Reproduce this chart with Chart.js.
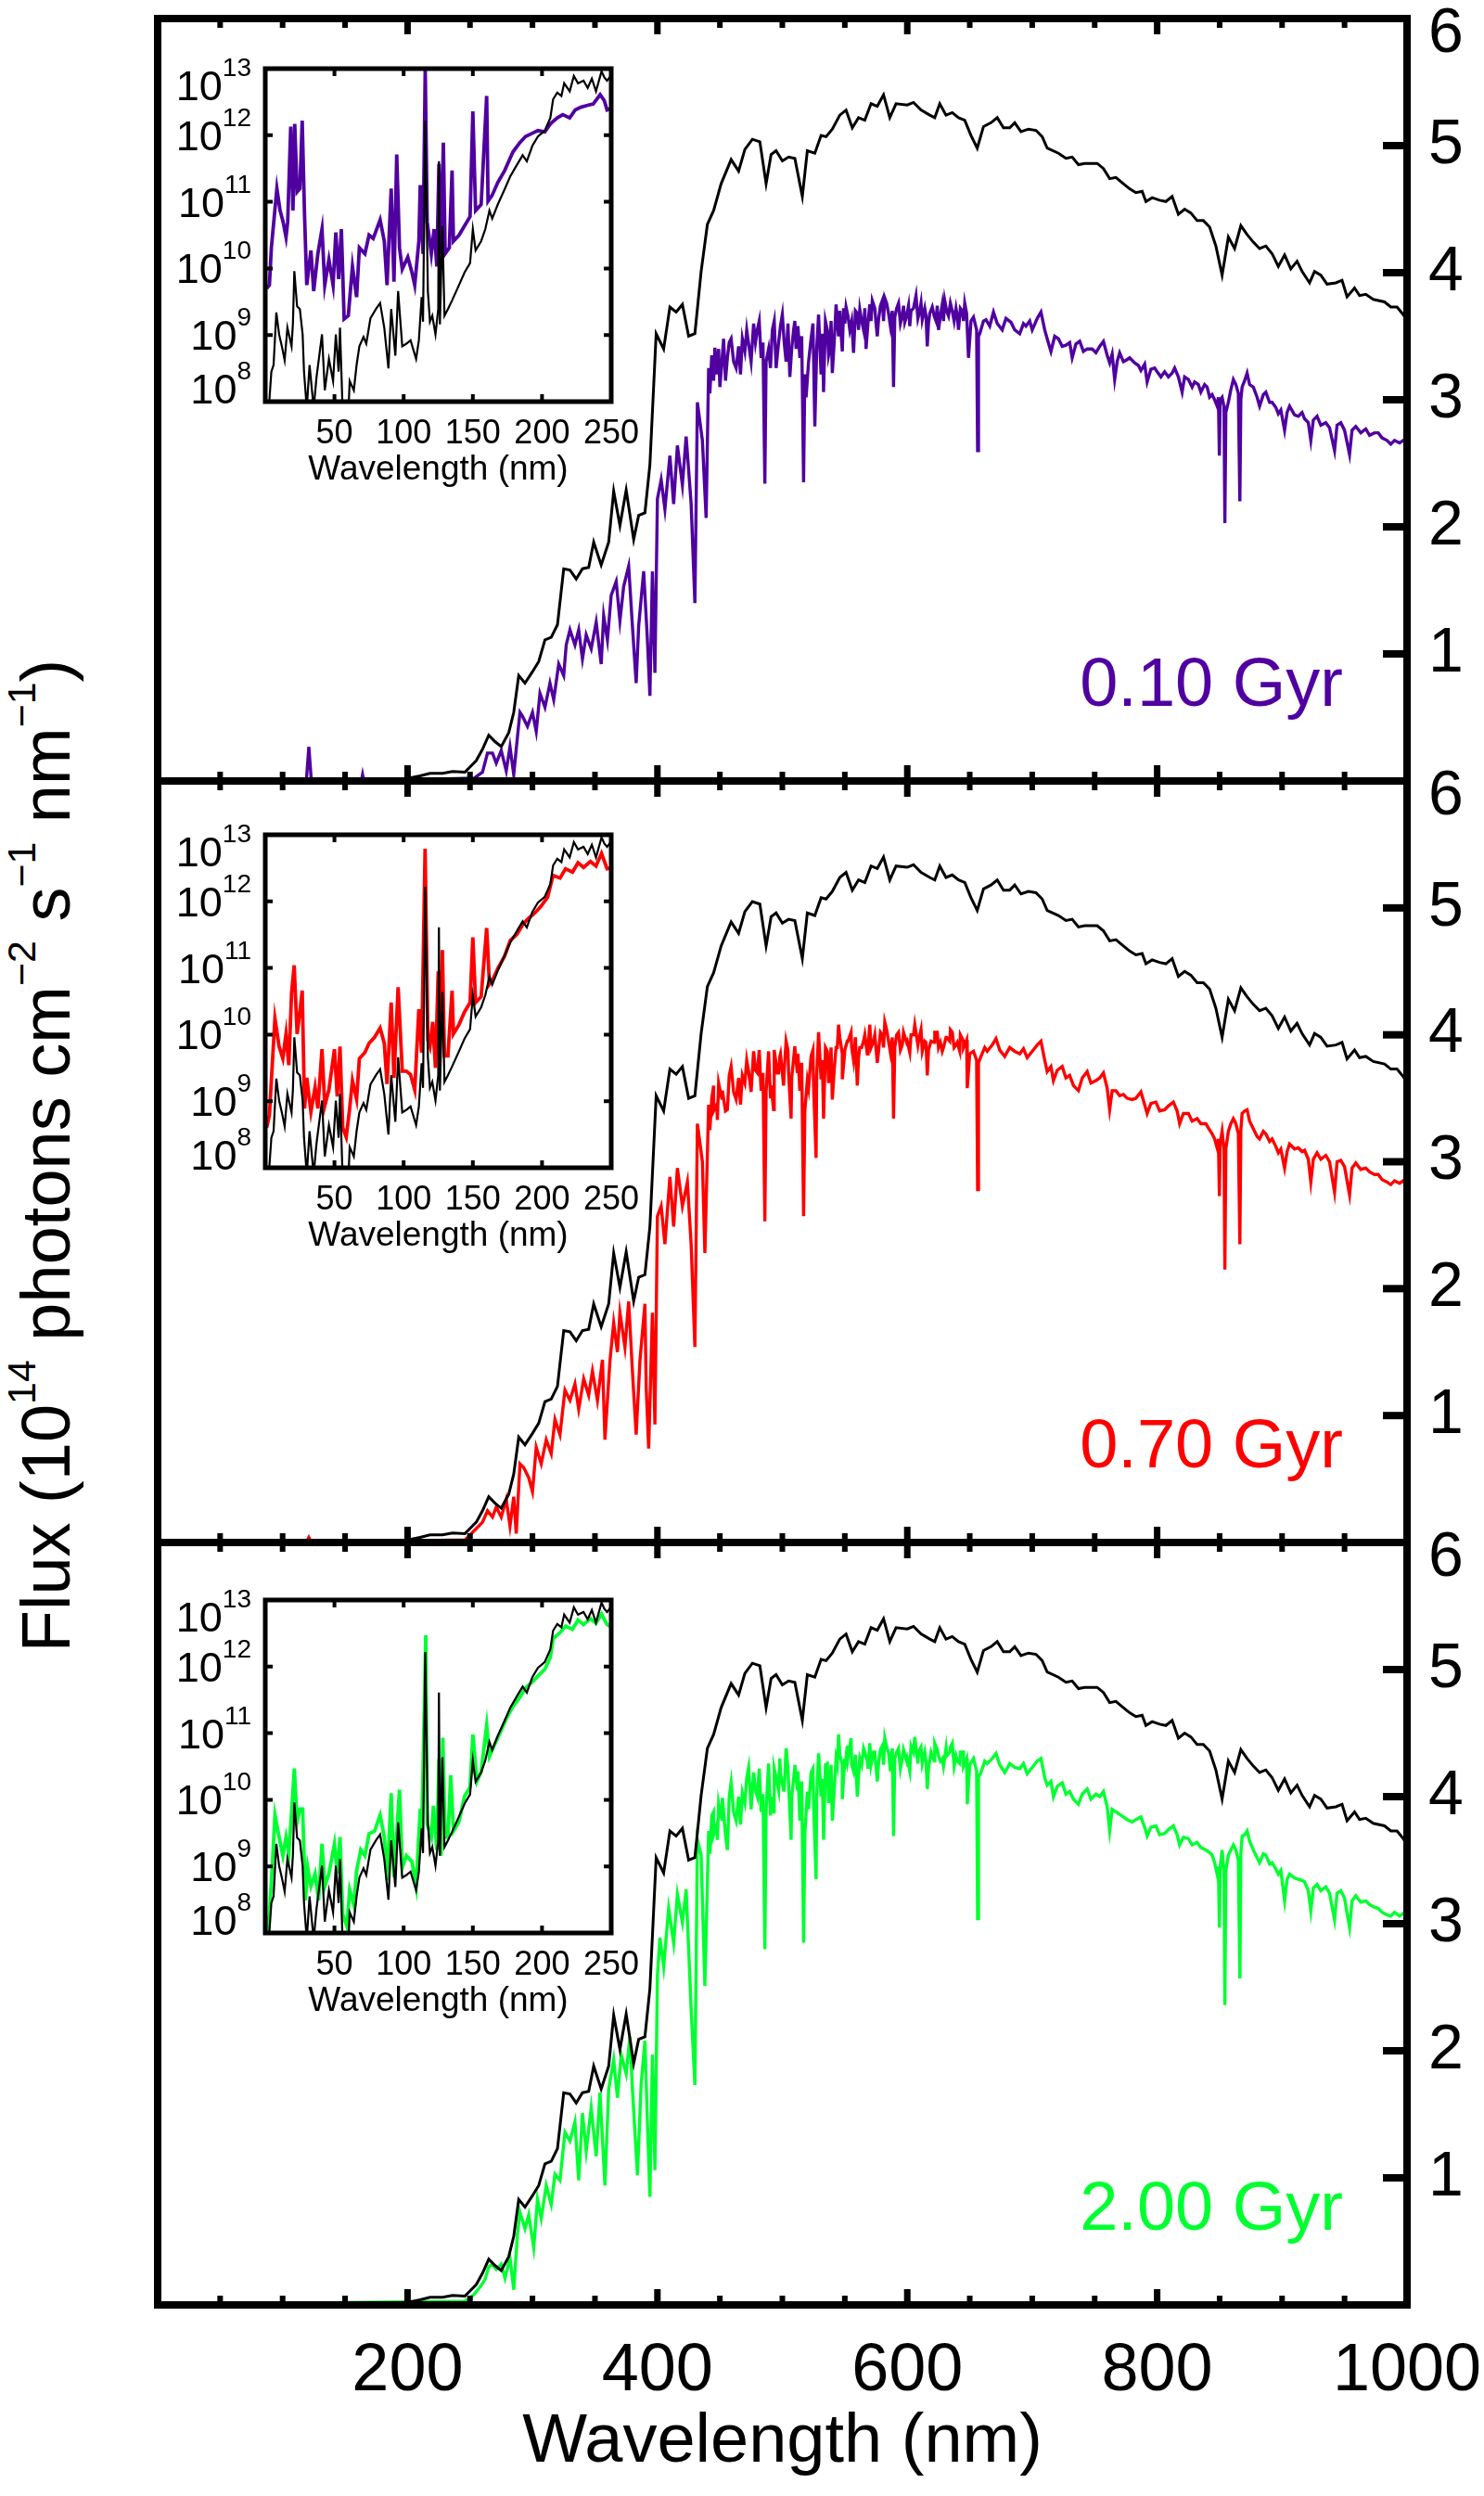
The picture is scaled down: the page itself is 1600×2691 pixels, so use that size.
<!DOCTYPE html>
<html>
<head>
<meta charset="utf-8">
<script src="https://cdn.jsdelivr.net/npm/chart.js@4.4.1/dist/chart.umd.min.js"></script>
<style>
  body { margin: 0; background: #fff; }
  #page { position: relative; width: 1600px; height: 2691px; overflow: hidden; font-family: "Liberation Sans", Arial, Helvetica, sans-serif; }
  canvas { position: absolute; }
  .ttl { position: absolute; font-size: 74px; line-height: 74px; white-space: nowrap; color: #000; }
  .ttl .sp { font-size: 0.58em; position: relative; top: -0.87em; line-height: 0; }
</style>
</head>
<body>
<div id="page">
  <div class="ttl" id="ytitle" style="left:50px; top:1246px; transform: translate(-50%,-50%) rotate(-90deg);">Flux (10<span class="sp">14</span> photons cm<span class="sp">−2</span> s<span class="sp">−1</span> nm<span class="sp">−1</span>)</div>
  <div class="ttl" style="left:170px; width:1347px; top:2592px; text-align:center;">Wavelength (nm)</div>
</div>
<script>
// reference spectrum (black), same in every panel: [wavelength nm, flux]
const blackSpec = [[200,0.02],[210,0.04],[218,0.06],[228,0.06],[236,0.075],[246,0.07],[249,0.10],[255,0.16],[260,0.25],[265,0.36],[270,0.31],[275,0.27],[281,0.38],[285,0.54],[289,0.83],[294,0.77],[300,0.86],[305,0.94],[310,1.11],[315,1.13],[320,1.23],[325,1.67],[330,1.66],[335,1.59],[340,1.67],[345,1.68],[349,1.88],[355,1.70],[361,1.88],[365,2.28],[370,2.01],[375,2.29],[381,1.90],[385,2.09],[390,2.11],[394,2.49],[399,3.52],[405,3.40],[410,3.73],[415,3.69],[420,3.75],[425,3.50],[430,3.52],[435,4.01],[440,4.38],[445,4.49],[451,4.70],[459,4.89],[465,4.80],[470,4.97],[476,5.05],[482,5.03],[487,4.70],[491,4.93],[495,4.96],[500,4.88],[505,4.91],[510,4.90],[516,4.60],[520,4.96],[526,4.94],[531,5.08],[535,5.07],[540,5.13],[546,5.24],[551,5.28],[556,5.14],[561,5.22],[566,5.20],[571,5.33],[576,5.31],[581,5.40],[586,5.22],[591,5.33],[600,5.32],[605,5.34],[611,5.28],[618,5.24],[622,5.22],[626,5.33],[631,5.24],[636,5.26],[641,5.22],[646,5.20],[651,5.08],[656,4.98],[661,5.15],[667,5.18],[672,5.22],[677,5.14],[682,5.14],[686,5.18],[691,5.11],[697,5.13],[703,5.12],[708,5.07],[712,4.98],[721,4.94],[727,4.90],[732,4.91],[737,4.85],[742,4.86],[752,4.86],[757,4.82],[762,4.74],[767,4.75],[773,4.70],[778,4.66],[783,4.63],[788,4.64],[791,4.56],[796,4.59],[802,4.57],[807,4.56],[812,4.60],[817,4.46],[822,4.50],[827,4.47],[832,4.41],[837,4.41],[842,4.36],[847,4.21],[852,3.98],[857,4.28],[862,4.19],[867,4.37],[872,4.30],[877,4.24],[882,4.19],[887,4.21],[892,4.15],[897,4.05],[902,4.14],[907,4.03],[912,4.09],[916,4.01],[922,3.92],[926,4.01],[931,3.98],[936,3.91],[943,3.92],[948,3.94],[952,3.81],[958,3.88],[962,3.82],[967,3.83],[973,3.79],[982,3.77],[987,3.73],[992,3.73],[997,3.67],[1000,3.62]];

// 0.10 Gyr spectrum
const purpleSpec = [[0,0],[119,0],[121,0.27],[123,0],[163,0],[164,0.05],[165,0],[246,0.02],[253,0.02],[260,0.07],[264,0.22],[268,0.22],[271,0.14],[275,0.24],[279,0.08],[282,0.27],[285,0.05],[288,0.35],[290,0.54],[292,0.51],[296,0.43],[300,0.54],[303,0.39],[306,0.69],[310,0.58],[314,0.77],[317,0.64],[321,0.92],[325,0.83],[327,1.07],[330,1.19],[334,1.07],[337,1.19],[340,0.96],[343,1.15],[347,1.04],[351,1.25],[355,0.92],[357,1.30],[360,1.11],[363,1.46],[367,1.57],[370,1.26],[373,1.53],[377,1.69],[380,1.22],[383,0.77],[385,1.22],[389,1.65],[392,1.11],[394,0.67],[396,1.65],[398,0.85],[400,2.22],[403,2.37],[406,2.14],[410,2.56],[413,2.18],[416,2.64],[420,2.33],[423,2.71],[427,2.18],[430,1.40],[432,2.98],[436,2.68],[439,2.07],[441,3.25],[446,3.41],[450,3.10],[453,3.48],[456,3.33],[459,3.48],[463,3.25],[468,3.48],[473,3.44],[477,3.60],[480,3.55],[483,3.33],[486,2.34],[487,3.30],[489,3.40],[492,3.55],[495,3.25],[500,3.67],[503,3.30],[506,3.18],[509,3.55],[511,3.40],[514,3.33],[517,2.35],[518,3.20],[519,3.02],[523,3.48],[526,2.79],[529,3.67],[531,3.20],[533,3.06],[536,3.55],[538,3.40],[540,3.21],[543,3.75],[545,3.50],[547,3.52],[549,3.72],[551,3.73],[554,3.55],[557,3.37],[560,3.68],[562,3.71],[565,3.55],[567,3.40],[570,3.75],[572,3.78],[575,3.60],[577,3.63],[580,3.78],[582,3.80],[585,3.68],[588,3.70],[589,3.10],[590,3.65],[593,3.76],[596,3.66],[598,3.61],[601,3.74],[603,3.70],[607,3.82],[610,3.70],[612,3.63],[614,3.72],[616,3.42],[618,3.68],[620,3.73],[623,3.62],[625,3.55],[628,3.75],[630,3.78],[633,3.66],[636,3.70],[639,3.72],[641,3.55],[644,3.70],[646,3.76],[649,3.33],[651,3.62],[653,3.65],[655.5,3.55],[656.3,2.60],[657,3.50],[658,3.52],[661,3.62],[663,3.63],[666,3.58],[669,3.69],[672,3.60],[676,3.55],[679,3.64],[683,3.61],[686,3.55],[690,3.52],[693,3.60],[695,3.58],[698,3.62],[700,3.55],[704,3.64],[707,3.69],[710,3.55],[712,3.48],[715,3.38],[718,3.50],[721,3.48],[724,3.42],[727,3.43],[730,3.45],[732,3.33],[735,3.44],[738,3.46],[741,3.38],[744,3.40],[748,3.40],[751,3.37],[754,3.42],[757,3.46],[760,3.35],[762,3.29],[764,3.36],[766,3.16],[768,3.30],[770,3.37],[773,3.30],[775,3.31],[778,3.33],[782,3.29],[785,3.27],[787,3.23],[790,3.28],[792,3.14],[795,3.24],[798,3.25],[800,3.22],[803,3.18],[806,3.22],[809,3.18],[812,3.21],[814,3.25],[817,3.18],[820,3.06],[822,3.18],[825,3.16],[828,3.10],[830,3.14],[833,3.12],[835,3.06],[838,3.12],[840,3.10],[842,3.02],[844,3.04],[846,3.00],[848,2.95],[849,3.02],[849.8,2.56],[850.5,3.00],[852,3.02],[853.5,2.95],[854.2,2.03],[855,2.90],[857,2.98],[859,3.08],[861,3.16],[863,3.12],[865,3.05],[866.2,2.20],[867,3.00],[868,3.10],[870,3.15],[872,3.21],[874,3.12],[877,3.10],[880,3.02],[882,2.95],[885,3.04],[887,3.06],[890,2.98],[892,2.98],[895,2.94],[897,2.89],[899,2.92],[902,2.76],[904,2.90],[906,2.95],[910,2.88],[913,2.87],[916,2.90],[918,2.85],[921,2.82],[923,2.68],[925,2.84],[928,2.87],[931,2.80],[935,2.82],[938,2.78],[942,2.60],[944,2.80],[947,2.82],[950,2.76],[954,2.57],[956,2.76],[959,2.79],[963,2.74],[967,2.77],[970,2.72],[974,2.74],[977,2.74],[980,2.70],[984,2.68],[987,2.65],[990,2.68],[994,2.66],[997,2.68],[1000,2.66]];
// extra samples in the dense 440-650 nm forest
const purpleDetail = [[442,3.05],[443.5,3.35],[445,3.15],[447.5,3.20],[449,3.40],[451.5,3.28],[454.5,3.15],[457.5,3.45],[461,3.30],[465,3.42],[466.5,3.20],[470,3.38],[471.5,3.55],[475,3.30],[478.5,3.45],[481.5,3.62],[484.5,3.45],[490.5,3.25],[493.5,3.62],[497,3.45],[498.5,3.58],[501.5,3.45],[504.5,3.60],[507.5,3.40],[510,3.62],[512.5,3.58],[515.5,3.50],[521,3.30],[524.5,3.60],[527.5,3.40],[532,3.52],[534.5,3.62],[537,3.35],[539,3.62],[541.5,3.45],[544,3.62],[546,3.70],[548,3.38],[550,3.60],[552.5,3.66],[555.5,3.62],[558.5,3.70],[561,3.55],[563.5,3.62],[566,3.72],[568.5,3.60],[571,3.62],[574,3.72],[576,3.50],[578.5,3.74],[581,3.62],[583.5,3.76],[586.5,3.58],[591.5,3.72],[594.5,3.60],[597,3.74],[599.5,3.66],[602,3.58],[605,3.72],[608.5,3.64],[611,3.76],[615,3.66],[617,3.60],[621.5,3.66],[624,3.74],[626.5,3.66],[629,3.62],[631.5,3.70],[634.5,3.76],[637.5,3.62],[640,3.66],[642.5,3.72],[645,3.62],[647.5,3.68]];

// 0.70 Gyr spectrum
const redSpec = [[0,0],[119,0],[121,0.04],[123,0],[246,0.02],[255,0.11],[260,0.16],[264,0.25],[268,0.20],[271,0.28],[275,0.20],[279,0.34],[282,0.13],[285,0.36],[287,0.07],[290,0.62],[293,0.59],[297,0.51],[300,0.40],[303,0.75],[307,0.62],[311,0.81],[315,0.70],[318,0.97],[322,0.85],[326,1.20],[330,1.12],[334,1.25],[337,1.05],[341,1.29],[345,1.16],[348,1.35],[352,1.12],[356,1.44],[358,0.81],[362,1.43],[365,1.73],[368,1.50],[370,1.81],[374,1.54],[377,1.90],[380,1.35],[383,0.85],[386,1.43],[390,1.88],[391,1.23],[393,0.74],[396,1.81],[398,0.93],[400,2.57],[403,2.65],[406,2.35],[410,2.88],[413,2.49],[416,2.95],[420,2.65],[424,2.84],[427,2.35],[430,1.54],[432,3.30],[436,3.00],[438,2.28],[441,3.45],[445,3.60],[448,3.33],[452,3.56],[456,3.41],[459,3.75],[463,3.49],[468,3.68],[473,3.71],[477,3.87],[480,3.70],[483,3.56],[486,2.53],[487,3.55],[489,3.87],[491,3.60],[493,3.41],[496,3.70],[498,3.83],[501,3.60],[503,3.95],[505,3.70],[507,3.34],[510,3.91],[512,3.70],[514,3.56],[517,2.57],[518,3.40],[520,3.64],[523,3.83],[525,3.60],[527,3.03],[529,4.02],[531,3.65],[533,3.34],[536,3.87],[538,3.70],[540,3.49],[543,3.90],[545,4.08],[548,3.85],[550,3.87],[552,3.95],[555,4.02],[557,3.80],[560,3.60],[562,3.90],[565,3.95],[568,3.85],[570,4.08],[573,3.95],[577,3.87],[580,4.00],[582,4.10],[585,3.95],[588,3.98],[589,3.34],[590,3.90],[593,4.02],[596,3.92],[600,3.95],[603,4.00],[606,4.08],[609,3.95],[612,3.87],[614,3.95],[616,3.68],[619,3.95],[622,4.02],[625,3.90],[628,3.87],[631,3.98],[634,3.95],[636,4.02],[639,3.92],[642,3.87],[645,3.95],[648,3.58],[650,3.85],[653,3.87],[655.5,3.80],[656.3,2.78],[657,3.78],[659,3.83],[662,3.90],[664,3.87],[668,3.92],[671,3.97],[674,3.88],[678,3.83],[682,3.90],[686,3.87],[690,3.85],[693,3.89],[696,3.82],[700,3.87],[704,3.92],[707,3.95],[710,3.80],[712,3.71],[715,3.75],[717,3.64],[720,3.72],[724,3.75],[727,3.66],[730,3.68],[733,3.60],[737,3.56],[740,3.66],[744,3.71],[747,3.62],[751,3.64],[754,3.66],[757,3.70],[760,3.58],[762,3.41],[764,3.56],[767,3.56],[770,3.52],[773,3.53],[776,3.50],[780,3.49],[783,3.50],[787,3.55],[790,3.45],[792,3.38],[795,3.46],[799,3.47],[802,3.40],[806,3.41],[809,3.44],[813,3.47],[816,3.40],[818,3.30],[821,3.38],[825,3.38],[828,3.32],[832,3.34],[835,3.30],[839,3.30],[842,3.25],[844,3.22],[846,3.18],[848,3.11],[849,3.18],[849.8,2.73],[850.5,3.15],[852,3.24],[853.5,3.10],[854.2,2.15],[855,3.10],[857,3.24],[859,3.30],[861,3.34],[863,3.30],[865,3.22],[866.2,2.35],[867,3.25],[868,3.38],[870,3.40],[872,3.41],[874,3.32],[877,3.26],[880,3.20],[882,3.18],[885,3.24],[887,3.22],[890,3.16],[892,3.18],[895,3.12],[897,3.07],[899,3.10],[902,2.95],[904,3.08],[906,3.14],[910,3.10],[913,3.11],[916,3.08],[918,3.09],[921,3.02],[923,2.84],[925,3.02],[928,3.07],[931,3.02],[935,3.05],[938,3.00],[942,2.76],[944,3.00],[947,3.01],[950,2.96],[954,2.74],[956,2.95],[959,2.99],[963,2.94],[967,2.95],[970,2.92],[974,2.90],[977,2.90],[980,2.86],[984,2.84],[987,2.82],[990,2.85],[994,2.83],[997,2.85],[1000,2.82]];
const redDetail = [[442,3.25],[443.5,3.50],[445,3.40],[447.5,3.45],[449,3.62],[451.5,3.50],[454.5,3.40],[457.5,3.68],[461,3.55],[465,3.66],[466.5,3.45],[470,3.62],[471.5,3.80],[475,3.55],[478.5,3.72],[481.5,3.88],[484.5,3.70],[490.5,3.50],[493.5,3.88],[497,3.70],[498.5,3.85],[501.5,3.72],[504.5,3.88],[507.5,3.66],[510,3.90],[512.5,3.85],[515.5,3.78],[521,3.58],[524.5,3.88],[527.5,3.68],[532,3.80],[534.5,3.90],[537,3.62],[539,3.90],[541.5,3.72],[544,3.90],[546,3.98],[548,3.65],[550,3.88],[552.5,3.95],[555.5,3.90],[558.5,3.98],[561,3.82],[563.5,3.90],[566,4.00],[568.5,3.88],[571,3.90],[574,4.00],[576,3.78],[578.5,4.02],[581,3.90],[583.5,4.04],[586.5,3.86],[591.5,4.00],[594.5,3.88],[597,4.02],[599.5,3.94],[602,3.86],[605,4.00],[608.5,3.92],[611,4.04],[615,3.94],[617,3.88],[621.5,3.94],[624,4.02],[626.5,3.94],[629,3.90],[631.5,3.98],[634.5,4.04],[637.5,3.90],[640,3.94],[642.5,4.00],[645,3.90],[647.5,3.96]];

// 2.00 Gyr spectrum
const greenSpec = [[0,0],[246,0.03],[253,0.08],[258,0.14],[262,0.20],[265,0.30],[268,0.32],[271,0.28],[275,0.32],[278,0.21],[282,0.37],[285,0.12],[288,0.56],[290,0.73],[294,0.60],[297,0.71],[301,0.45],[304,0.83],[307,0.68],[311,0.94],[315,0.79],[318,1.03],[322,0.98],[326,1.36],[330,1.29],[334,1.44],[337,0.98],[340,1.51],[343,1.21],[347,1.55],[351,1.17],[354,1.67],[358,0.94],[361,1.70],[365,1.93],[368,1.63],[371,1.97],[375,1.82],[378,2.11],[380,1.70],[384,1.02],[387,1.74],[390,2.08],[392,1.44],[394,0.85],[396,1.97],[398,1.06],[400,2.59],[402,2.89],[405,2.66],[409,3.12],[413,2.85],[416,3.23],[420,3.01],[423,3.27],[427,2.33],[430,1.73],[432,3.66],[435,3.54],[438,2.51],[441,3.73],[445,3.88],[448,3.66],[452,3.99],[456,3.58],[459,4.11],[463,3.81],[468,4.03],[473,4.23],[477,4.19],[480,4.00],[483,3.88],[486,2.80],[487,3.90],[489,4.26],[491,4.00],[493,3.88],[496,4.10],[498,4.30],[501,4.05],[503,4.38],[505,4.10],[507,3.66],[510,4.23],[512,4.05],[514,3.81],[517,2.85],[518,3.70],[520,4.04],[523,4.19],[525,3.95],[527,3.35],[529,4.34],[531,4.00],[533,3.66],[536,4.26],[538,4.05],[540,3.81],[543,4.30],[545,4.49],[548,4.25],[550,4.30],[552,4.40],[555,4.46],[557,4.20],[560,4.00],[562,4.30],[565,4.38],[568,4.28],[570,4.42],[573,4.35],[577,4.26],[580,4.40],[582,4.46],[585,4.35],[588,4.38],[589,3.69],[590,4.30],[593,4.38],[596,4.30],[600,4.30],[603,4.40],[606,4.47],[609,4.35],[612,4.26],[614,4.35],[616,4.06],[619,4.35],[622,4.42],[625,4.32],[628,4.30],[631,4.38],[634,4.35],[636,4.42],[639,4.32],[642,4.26],[645,4.35],[648,3.94],[650,4.25],[653,4.30],[655.5,4.20],[656.3,3.04],[657,4.15],[659,4.19],[662,4.28],[664,4.26],[668,4.30],[671,4.34],[674,4.25],[678,4.19],[682,4.26],[686,4.23],[690,4.22],[693,4.26],[696,4.18],[700,4.23],[704,4.28],[707,4.30],[710,4.15],[712,4.09],[715,4.12],[717,4.00],[720,4.08],[724,4.11],[727,4.02],[730,4.04],[733,3.98],[737,3.94],[740,4.02],[744,4.06],[747,3.98],[751,4.02],[754,4.00],[757,4.04],[760,3.92],[762,3.73],[764,3.90],[767,3.88],[770,3.86],[773,3.84],[776,3.82],[780,3.80],[783,3.82],[787,3.84],[790,3.76],[792,3.69],[795,3.76],[799,3.77],[802,3.70],[806,3.71],[809,3.74],[813,3.77],[816,3.70],[818,3.62],[821,3.68],[825,3.67],[828,3.62],[832,3.64],[835,3.60],[839,3.58],[842,3.56],[844,3.54],[846,3.48],[848,3.39],[849,3.45],[849.8,2.97],[850.5,3.45],[852,3.58],[853.5,3.40],[854.2,2.36],[855,3.42],[857,3.54],[859,3.58],[861,3.62],[863,3.58],[865,3.50],[866.2,2.57],[867,3.55],[868,3.69],[870,3.70],[872,3.73],[874,3.65],[877,3.58],[880,3.52],[882,3.48],[885,3.55],[887,3.54],[890,3.47],[892,3.48],[895,3.43],[897,3.39],[899,3.42],[902,3.18],[904,3.35],[906,3.39],[910,3.36],[913,3.35],[916,3.34],[918,3.33],[921,3.26],[923,3.10],[925,3.28],[928,3.31],[931,3.26],[935,3.29],[938,3.24],[942,3.03],[944,3.24],[947,3.26],[950,3.20],[954,2.97],[956,3.18],[959,3.22],[963,3.17],[967,3.18],[970,3.15],[974,3.13],[977,3.12],[980,3.09],[984,3.07],[987,3.06],[990,3.09],[994,3.06],[997,3.08],[1000,3.06]];
const greenDetail = [[442,3.55],[443.5,3.85],[445,3.70],[447.5,3.78],[449,3.95],[451.5,3.82],[454.5,3.70],[457.5,4.00],[461,3.88],[465,4.00],[466.5,3.78],[470,3.95],[471.5,4.15],[475,3.90],[478.5,4.05],[481.5,4.22],[484.5,4.02],[490.5,3.85],[493.5,4.22],[497,4.05],[498.5,4.18],[501.5,4.05],[504.5,4.22],[507.5,4.00],[510,4.25],[512.5,4.20],[515.5,4.12],[521,3.90],[524.5,4.22],[527.5,4.00],[532,4.14],[534.5,4.25],[537,3.95],[539,4.25],[541.5,4.05],[544,4.25],[546,4.33],[548,3.98],[550,4.22],[552.5,4.30],[555.5,4.25],[558.5,4.33],[561,4.16],[563.5,4.25],[566,4.35],[568.5,4.22],[571,4.25],[574,4.35],[576,4.12],[578.5,4.37],[581,4.25],[583.5,4.39],[586.5,4.20],[591.5,4.35],[594.5,4.22],[597,4.37],[599.5,4.28],[602,4.20],[605,4.35],[608.5,4.26],[611,4.39],[615,4.28],[617,4.22],[621.5,4.28],[624,4.37],[626.5,4.28],[629,4.24],[631.5,4.32],[634.5,4.39],[637.5,4.24],[640,4.28],[642.5,4.35],[645,4.24],[647.5,4.30]];

// insets: [wavelength nm, log10 flux]
const insetBlack = [[2,7.6],[3,8.03],[4.4,8.45],[6,8.55],[8,9.34],[10,9.01],[12,8.83],[14,8.62],[16,9.11],[19,8.83],[20,9.18],[21,9.96],[23,9.43],[25,9.39],[27,9.01],[28,8.45],[30,7.9],[32,8.55],[35,7.9],[37,8.36],[41,9.01],[43,8.17],[46,8.64],[49,8.31],[51,9.01],[53,8.45],[54,9.11],[56,7.8],[60,7.8],[61,8.31],[64,8.17],[66,8.55],[68,8.83],[71,8.97],[73,8.87],[76,9.25],[80,9.39],[83,9.48],[86,9.11],[89,8.50],[91,9.39],[94,8.69],[96,9.66],[99,8.83],[102,8.87],[105,8.92],[109,8.64],[111,8.92],[113,9.57],[114,9.20],[115.6,12.22],[117.5,9.66],[119,9.20],[120.7,9.29],[123,9.01],[125,9.39],[125.5,11.61],[126.2,9.16],[128,10.64],[129.5,9.29],[132,9.39],[135,9.52],[140,9.75],[144,9.94],[148,10.08],[150,10.59],[152,10.27],[156,10.41],[159,10.59],[162,10.87],[164,10.75],[168,10.96],[173,11.19],[177,11.38],[182,11.56],[186,11.70],[189,11.61],[193,11.84],[197,11.98],[202,12.07],[206,12.26],[208,12.54],[211,12.64],[214,12.59],[216,12.78],[220,12.66],[223,12.89],[226,12.78],[230,12.82],[233,12.71],[236,12.85],[239,12.66],[243,12.96],[245,12.87],[247,12.82],[250,12.9]];
const insetPurple = [[1,9.7],[3,9.75],[4.4,10.31],[8.4,11.20],[10.7,10.87],[12.9,10.70],[15,10.47],[16.2,10.70],[18.4,12.13],[20,10.87],[21.3,12.17],[23,11.15],[25,11.20],[26.7,12.22],[28.4,10.79],[30,9.75],[33,10.27],[35,9.66],[38,10.22],[41,10.59],[43,9.75],[46,10.13],[49,9.75],[51,10.54],[53,9.84],[55,10.59],[57,9.24],[60,9.29],[63,10.03],[66,9.57],[68,10.31],[72,10.22],[75,10.50],[78,10.45],[83,10.73],[86,10.41],[88,9.75],[91,11.20],[93,9.80],[95,11.71],[97,10.31],[99,9.99],[103,10.17],[106,9.94],[108,9.75],[111,10.41],[112,11.25],[114,10.22],[115.6,13.0],[117,10.70],[120,10.22],[122,10.59],[124,10.03],[125.5,11.57],[127,10.22],[128.7,11.89],[130,10.22],[133,10.31],[135,11.47],[136,10.41],[140,10.50],[144,10.64],[148,10.78],[150,12.36],[152,10.87],[156,10.96],[160,12.59],[161,11.01],[164,11.10],[168,11.29],[173,11.47],[176,11.61],[179,11.75],[184,11.89],[188,11.98],[193,12.03],[197,12.07],[202,12.05],[206,12.17],[211,12.26],[215,12.31],[220,12.26],[224,12.38],[228,12.42],[233,12.45],[237,12.47],[242,12.61],[245,12.52],[247,12.38],[250,12.4]];
const insetRed = [[1,8.6],[3,8.79],[4.4,9.31],[7,10.24],[10,9.82],[12.7,9.64],[15,10.01],[17,9.54],[19,10.62],[20.9,11.04],[23,10.01],[25,10.34],[26.7,10.66],[28.4,8.89],[30,9.35],[33,8.84],[36,9.21],[38,8.89],[41,9.78],[43,8.93],[46,9.17],[50,9.78],[52,9.07],[54,9.82],[56,8.60],[58.5,8.46],[61,8.89],[63,9.31],[66,9.03],[68,9.64],[72,9.73],[75,9.87],[79,9.96],[83,10.10],[86,9.87],[88,9.26],[91,10.48],[93,9.35],[96,10.71],[99,9.45],[102,9.45],[105,9.40],[108,9.17],[111,10.38],[113,9.73],[115.5,12.79],[117.5,9.92],[119,9.82],[121,10.19],[123,9.50],[125,10.95],[126,9.59],[128,11.27],[129.5,9.68],[132,9.68],[135,10.66],[136,10.01],[140,10.15],[144,10.34],[148,10.48],[150,11.46],[152,10.48],[156,10.57],[160,11.60],[162,10.76],[165,10.85],[168,10.99],[173,11.18],[177,11.41],[182,11.51],[186,11.65],[190,11.74],[195,11.83],[199,11.92],[204,12.06],[208,12.39],[213,12.35],[217,12.49],[222,12.44],[226,12.58],[230,12.51],[235,12.60],[239,12.53],[243,12.72],[247,12.49],[250,12.5]];
const insetGreen = [[1,8.0],[3,8.28],[5,8.98],[7,9.77],[10,9.44],[12.7,9.16],[15,9.44],[17,9.20],[19,9.81],[21,10.47],[23,9.67],[25,9.86],[27,9.86],[29,8.49],[30.7,8.98],[33,8.70],[36,8.89],[38.5,8.49],[41,9.34],[43,8.70],[46,8.89],[50,9.34],[52,8.89],[54,9.44],[56,8.28],[59,8.10],[61,8.65],[64,8.42],[66,8.93],[69,9.25],[72,9.16],[75,9.49],[79,9.53],[83,9.77],[86,9.44],[88,8.79],[91,10.10],[93,8.84],[97,10.15],[99,8.98],[102,9.16],[106,9.07],[109,8.70],[112,9.86],[113,9.44],[116,12.47],[117,9.63],[120,9.44],[121.5,9.91],[124,9.25],[125.5,10.61],[127,9.16],[128.3,10.93],[130,9.44],[132,9.44],[134,10.37],[136,9.53],[140,9.67],[144,10.05],[148,10.19],[150,10.98],[153,10.28],[156,10.42],[160,11.12],[162,10.65],[166,10.84],[170,11.02],[174,11.21],[179,11.40],[184,11.54],[188,11.68],[193,11.77],[197,11.86],[202,11.96],[206,12.14],[208,12.42],[213,12.51],[217,12.61],[222,12.56],[226,12.70],[230,12.63],[235,12.72],[239,12.65],[243,12.79],[247,12.63],[250,12.6]];

const ages = ["0.10 Gyr", "0.70 Gyr", "2.00 Gyr"];
const colors = ["#5000a0", "#ff0000", "#00ff30"];
const mainSpecs = [purpleSpec.concat(purpleDetail), redSpec.concat(redDetail), greenSpec.concat(greenDetail)];
const insetSpecs = [insetPurple, insetRed, insetGreen];
const fluxTicks = [1, 2, 3, 4, 5, 6];
const waveTicks = [200, 400, 600, 800, 1000];
const insetWaveTicks = [50, 100, 150, 200, 250];
const insetExpTicks = [8, 9, 10, 11, 12, 13];

const FONT = '"Liberation Sans", Arial, Helvetica, sans-serif';
const panelTop = [20, 842, 1663];
const panelBottom = [842, 1663, 2485];
const insetTop = [74, 900, 1725];

const pts = arr => arr.map(([x, y]) => ({ x, y })).sort((a, b) => a.x - b.x);
const page = document.getElementById("page");

function addCanvas(left, top, w, h) {
    const c = document.createElement("canvas");
    c.width = w; c.height = h;
    c.style.left = left + "px"; c.style.top = top + "px";
    c.style.width = w + "px"; c.style.height = h + "px";
    page.appendChild(c);
    return c;
}

// frame, inward ticks and labels of a main panel
const mainFrame = {
    id: "mainFrame",
    afterDraw(chart, args, opts) {
        const ctx = chart.ctx;
        const { left, right, top, bottom } = chart.chartArea;
        const xs = chart.scales.x, ys = chart.scales.y;
        ctx.save();
        ctx.strokeStyle = "#000";
        ctx.fillStyle = "#000";
        ctx.lineCap = "butt";
        // x ticks, top and bottom
        for (let v = 50; v < 1000; v += 50) {
            const x = xs.getPixelForValue(v);
            const len = v % 200 === 0 ? 13 : 6;
            ctx.lineWidth = v % 200 === 0 ? 7 : 6;
            ctx.beginPath();
            ctx.moveTo(x, top); ctx.lineTo(x, top + 4 + len);
            ctx.moveTo(x, bottom); ctx.lineTo(x, bottom - 4 - len);
            ctx.stroke();
        }
        // right y ticks
        ctx.lineWidth = 8;
        for (const v of fluxTicks) {
            if (v >= 6) continue;
            const y = ys.getPixelForValue(v);
            ctx.beginPath();
            ctx.moveTo(right, y); ctx.lineTo(right - 26, y);
            ctx.stroke();
        }
        // border
        ctx.lineWidth = 8;
        ctx.strokeRect(left, top, right - left, bottom - top);
        // right labels
        ctx.font = "68px " + FONT;
        ctx.textAlign = "left";
        ctx.textBaseline = "middle";
        for (const v of fluxTicks) {
            const y = Math.max(ys.getPixelForValue(v), top + 17);
            ctx.fillText(String(v), right + 23, y);
        }
        // bottom labels
        if (opts.xLabels) {
            ctx.font = "72px " + FONT;
            ctx.textAlign = "center";
            ctx.textBaseline = "alphabetic";
            for (const v of waveTicks) {
                ctx.fillText(String(v), xs.getPixelForValue(v), bottom + 92);
            }
        }
        // age label
        ctx.font = "74px " + FONT;
        ctx.textAlign = "right";
        ctx.textBaseline = "alphabetic";
        ctx.fillStyle = opts.color;
        ctx.fillText(opts.label, 1448, bottom - 81);
        ctx.restore();
    }
};

// white box, frame, ticks and labels of an inset
const insetFrame = {
    id: "insetFrame",
    beforeDatasetsDraw(chart) {
        const { left, right, top, bottom } = chart.chartArea;
        chart.ctx.save();
        chart.ctx.fillStyle = "#fff";
        chart.ctx.fillRect(left, top, right - left, bottom - top);
        chart.ctx.restore();
    },
    afterDraw(chart) {
        const ctx = chart.ctx;
        const { left, right, top, bottom } = chart.chartArea;
        const xs = chart.scales.x, ys = chart.scales.y;
        ctx.save();
        ctx.strokeStyle = "#000";
        ctx.fillStyle = "#000";
        ctx.lineWidth = 4;
        ctx.beginPath();
        for (const v of insetWaveTicks) {
            if (v >= 250) continue;
            const x = xs.getPixelForValue(v);
            ctx.moveTo(x, top); ctx.lineTo(x, top + 8);
            ctx.moveTo(x, bottom); ctx.lineTo(x, bottom - 8);
        }
        for (const e of insetExpTicks) {
            if (e <= 8 || e >= 13) continue;
            const y = ys.getPixelForValue(e);
            ctx.moveTo(left, y); ctx.lineTo(left + 8, y);
            ctx.moveTo(right, y); ctx.lineTo(right - 8, y);
        }
        ctx.stroke();
        ctx.lineWidth = 5;
        ctx.strokeRect(left, top, right - left, bottom - top);
        // x labels
        ctx.font = "36px " + FONT;
        ctx.textAlign = "center";
        ctx.textBaseline = "middle";
        for (const v of insetWaveTicks) {
            ctx.fillText(String(v), xs.getPixelForValue(v), bottom + 35);
        }
        ctx.font = "37px " + FONT;
        ctx.fillText("Wavelength (nm)", (left + right) / 2, bottom + 74);
        // y labels 10^n
        ctx.textAlign = "right";
        ctx.textBaseline = "alphabetic";
        const xr = left - 15;
        for (const e of insetExpTicks) {
            const y = Math.min(Math.max(ys.getPixelForValue(e), top + 18), bottom - 14);
            ctx.font = "28px " + FONT;
            const sw = ctx.measureText(String(e)).width;
            ctx.fillText(String(e), xr, y - 10);
            ctx.font = "45px " + FONT;
            ctx.fillText("10", xr - sw, y + 16);
        }
        ctx.restore();
    }
};

for (let i = 0; i < 3; i++) {
    const last = i === 2;
    const ct = panelTop[i] - 30;
    const ph = panelBottom[i] - panelTop[i];
    const ch = ph + 60 + (last ? 110 : 0);
    const canvas = addCanvas(0, ct, 1600, ch);
    new Chart(canvas.getContext("2d"), {
        type: "line",
        data: {
            datasets: [
                { data: pts(blackSpec), borderColor: "#000", borderWidth: 3 },
                { data: pts(mainSpecs[i]), borderColor: colors[i], borderWidth: 3.4 }
            ]
        },
        options: {
            responsive: false,
            animation: false,
            layout: { padding: { left: 170, right: 83, top: 30, bottom: ch - 30 - ph } },
            elements: { point: { radius: 0 }, line: { tension: 0, borderJoinStyle: "miter" } },
            scales: {
                x: { type: "linear", min: 0, max: 1000, display: false },
                y: { type: "linear", min: 0, max: 6, display: false }
            },
            plugins: {
                legend: { display: false },
                tooltip: { enabled: false },
                mainFrame: { xLabels: last, label: ages[i], color: colors[i] }
            }
        },
        plugins: [mainFrame]
    });
}

for (let i = 0; i < 3; i++) {
    const canvas = addCanvas(150, insetTop[i] - 50, 540, 520);
    new Chart(canvas.getContext("2d"), {
        type: "line",
        data: {
            datasets: [
                { data: pts(insetBlack), borderColor: "#000", borderWidth: 2.2 },
                { data: pts(insetSpecs[i]), borderColor: colors[i], borderWidth: 3.8 }
            ]
        },
        options: {
            responsive: false,
            animation: false,
            layout: { padding: { left: 136, right: 31, top: 50, bottom: 111 } },
            elements: { point: { radius: 0 }, line: { tension: 0 } },
            scales: {
                x: { type: "linear", min: 0, max: 250, display: false },
                y: { type: "linear", min: 8, max: 13, display: false }
            },
            plugins: { legend: { display: false }, tooltip: { enabled: false } }
        },
        plugins: [insetFrame]
    });
}
</script>
</body>
</html>
